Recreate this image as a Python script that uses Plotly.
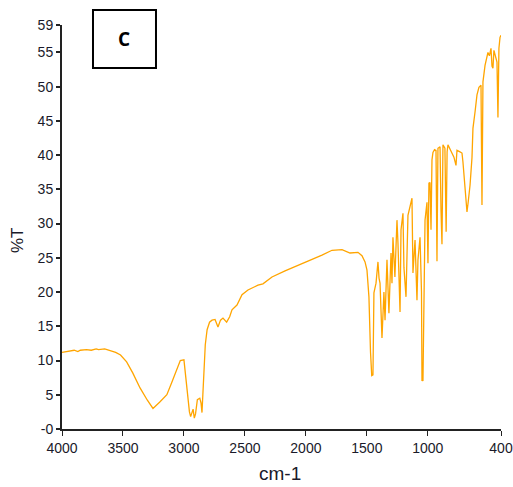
import plotly.graph_objects as go

# IR spectrum: wavenumber (cm-1) and %T
wavenumber = [4000, 3950, 3900, 3870, 3850, 3800, 3760, 3720, 3700, 3650, 3600, 3560, 3520, 3470, 3420,
              3360, 3300, 3254, 3200, 3140, 3100, 3060, 3030, 3000, 2985, 2968, 2955, 2945, 2935, 2925,
              2915, 2905, 2890, 2870, 2860, 2852, 2845, 2838, 2825, 2810, 2790, 2770, 2745, 2721, 2700,
              2680, 2650, 2625, 2606, 2565, 2524, 2475, 2430, 2393, 2352, 2278, 2171, 2065, 1950, 1868,
              1786, 1740, 1704, 1638, 1573, 1540, 1515, 1499, 1483, 1470, 1460, 1450, 1442, 1425, 1409,
              1400, 1392, 1376, 1368, 1360, 1351, 1335, 1319, 1302, 1294, 1286, 1270, 1253, 1245, 1228,
              1220, 1204, 1196, 1179, 1163, 1146, 1130, 1122, 1105, 1089, 1081, 1064, 1052, 1048, 1044,
              1040, 1032, 1023, 1007, 999, 991, 982, 974, 966, 958, 945, 933, 925, 917, 900,
              892, 884, 876, 860, 850, 842, 835, 820, 802, 786, 769, 761, 740, 720, 712,
              695, 685, 679, 670, 654, 638, 630, 613, 597, 581, 564, 556, 548, 531, 515,
              507, 495, 482, 474, 466, 458, 445, 433, 425, 417, 408, 400]
transmittance = [11.2, 11.4, 11.5, 11.3, 11.5, 11.6, 11.5, 11.7, 11.6, 11.7, 11.4, 11.2, 10.8, 9.8, 8.2,
                 6.0, 4.2, 3.0, 3.9, 5.0, 6.8, 8.8, 10.0, 10.1, 7.6, 4.2, 2.5, 1.8, 2.6, 2.9,
                 1.6, 2.2, 4.3, 4.5, 3.8, 2.4, 5.0, 8.6, 12.3, 14.5, 15.6, 15.9, 16.0, 14.9, 15.9,
                 16.2, 15.6, 16.4, 17.4, 18.1, 19.6, 20.3, 20.7, 21.0, 21.2, 22.2, 23.1, 23.9, 24.7, 25.4,
                 26.1, 26.2, 26.2, 25.7, 25.8, 25.3, 24.4, 23.2, 19.3, 11.2, 7.8, 7.9, 19.9, 21.3, 24.4,
                 22.0, 21.3, 13.3, 17.0, 20.0, 15.9, 24.7, 16.9, 25.7, 21.3, 28.0, 22.2, 30.5, 27.2, 17.1,
                 29.1, 31.5, 23.6, 19.3, 31.2, 32.4, 33.7, 22.8, 27.6, 18.8, 24.7, 28.0, 20.0, 7.0, 7.2,
                 7.0, 23.2, 30.5, 33.1, 24.2, 35.9, 36.0, 29.1, 39.3, 40.4, 40.8, 40.7, 24.5, 41.0, 41.2,
                 32.0, 27.0, 41.5, 41.0, 28.8, 40.5, 41.5, 41.0, 40.4, 39.7, 38.5, 40.7, 40.5, 40.3, 39.0,
                 35.6, 32.5, 31.7, 33.0, 35.6, 39.6, 43.9, 46.3, 48.8, 49.9, 50.2, 32.7, 50.7, 53.1, 54.5,
                 55.0, 54.5, 55.6, 53.0, 52.7, 55.3, 54.5, 53.6, 45.5, 55.6, 57.2, 57.5]

x_tick_vals = [4000, 3500, 3000, 2500, 2000, 1500, 1000, 400]
x_tick_text = ["4000", "3500", "3000", "2500", "2000", "1500", "1000", "400"]
y_tick_vals = [0, 5, 10, 15, 20, 25, 30, 35, 40, 45, 50, 55, 59]
y_tick_text = ["-0", "5", "10", "15", "20", "25", "30", "35", "40", "45", "50", "55", "59"]

tick_font = dict(family="Liberation Sans, Arial", size=14, color="#1a1a2a")

fig = go.Figure()
fig.add_trace(go.Scatter(x=wavenumber, y=transmittance, mode="lines",
                         line=dict(color="#FFA500", width=1.3), showlegend=False,
                         hoverinfo="skip"))

fig.update_layout(
    width=513, height=487,
    margin=dict(l=62, r=12, t=25, b=58),
    paper_bgcolor="white", plot_bgcolor="white",
    xaxis=dict(range=[4000, 400], tickvals=x_tick_vals, ticktext=x_tick_text,
               showgrid=False, zeroline=False, showline=True, linecolor="#222",
               linewidth=2, ticks="outside", ticklen=5, tickwidth=1, tickcolor="#222",
               tickfont=tick_font, ticklabeloverflow="allow", automargin=False),
    yaxis=dict(range=[0, 59], tickvals=y_tick_vals, ticktext=y_tick_text,
               showgrid=False, zeroline=False, showline=True, linecolor="#222",
               linewidth=2, ticks="outside", ticklen=4, tickwidth=1.5, tickcolor="#222",
               tickfont=tick_font, ticklabeloverflow="allow", automargin=False),
    shapes=[dict(type="rect", xref="paper", yref="paper",
                 x0=0.0706, x1=0.2141, y0=0.8936, y1=1.037,
                 line=dict(color="black", width=2), fillcolor="white", layer="above")],
    annotations=[
        dict(text="<b>C</b>", xref="paper", yref="paper", x=0.1412, y=0.966,
             showarrow=False, font=dict(family="Open Sans, Liberation Sans, Arial", size=19, color="black"),
             xanchor="center", yanchor="middle"),
        dict(text="cm-1", xref="paper", yref="paper", x=(280 - 62) / 439, y=-(473 - 429) / 404,
             showarrow=False, font=dict(family="Liberation Sans, Arial", size=19, color="#1a1a2a"),
             xanchor="center", yanchor="middle"),
        dict(text="%T", xref="paper", yref="paper", x=-(62 - 17) / 439, y=(429 - 240) / 404,
             showarrow=False, textangle=-90,
             font=dict(family="Liberation Sans, Arial", size=17, color="#1a1a2a"),
             xanchor="center", yanchor="middle"),
    ],
)

fig.write_html("out.html")
